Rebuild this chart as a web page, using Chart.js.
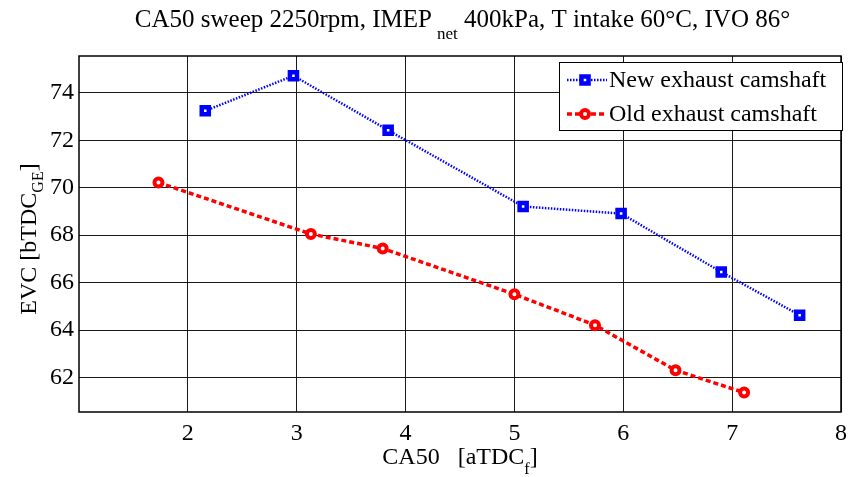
<!DOCTYPE html>
<html>
<head>
<meta charset="utf-8">
<script src="https://cdn.jsdelivr.net/npm/chart.js@4/dist/chart.umd.min.js"></script>
<style>
html,body{margin:0;padding:0;background:#fff;}
#wrap{width:854px;height:477px;position:relative;}
</style>
</head>
<body>
<div id="wrap"><canvas id="c" width="854" height="477"></canvas></div>
<script>
// ---- data ----
const newLabel = "New exhaust camshaft";
const oldLabel = "Old exhaust camshaft";
const newX = [2.16, 2.97, 3.84, 5.08, 5.98, 6.90, 7.62];
const newY = [73.24, 74.72, 72.42, 69.21, 68.91, 66.45, 64.63];
const oldX = [1.73, 3.13, 3.79, 5.00, 5.74, 6.48, 7.11];
const oldY = [70.22, 68.05, 67.44, 65.51, 64.21, 62.31, 61.37];
const xTicks = [2, 3, 4, 5, 6, 7, 8];
const yTicks = [62, 64, 66, 68, 70, 72, 74];
const titleMain1 = "CA50 sweep 2250rpm, IMEP";
const titleSub = "net";
const titleMain2 = " 400kPa, T intake 60\u00B0C, IVO 86\u00B0";
const xLabelMain = "CA50   [aTDC";
const xLabelSub = "f";
const yLabelMain = "EVC [bTDC";
const yLabelSub = "GE";

const FONT = "'Liberation Serif', 'Times New Roman', serif";

function pts(xs, ys) { return xs.map((x, i) => ({ x: x, y: ys[i] })); }

function drawMarker(ctx, ds, x, y) {
  ctx.save();
  ctx.setLineDash([]);
  ctx.strokeStyle = ds.pointBorderColor;
  ctx.fillStyle = '#fff';
  ctx.lineWidth = ds.pointBorderWidth;
  ctx.beginPath();
  if (ds.pointStyle === 'rect') {
    const s = Math.SQRT1_2 * ds.pointRadius;
    ctx.rect(x - s, y - s, 2 * s, 2 * s);
  } else {
    ctx.arc(x, y, ds.pointRadius, 0, Math.PI * 2);
  }
  ctx.fill();
  ctx.stroke();
  ctx.restore();
}

const decor = {
  id: 'decor',
  beforeDatasetsDraw(chart) {
    const { ctx, chartArea: a } = chart;
    ctx.save();
    ctx.strokeStyle = '#000';
    ctx.lineWidth = 1.5;
    ctx.strokeRect(a.left, a.top, a.right - a.left, a.bottom - a.top);
    ctx.restore();
  },
  afterDraw(chart) {
    const { ctx, chartArea: a } = chart;
    ctx.save();
    ctx.fillStyle = '#000';
    ctx.textBaseline = 'alphabetic';
    // Title
    const bigT = "25px " + FONT, smallT = "17px " + FONT;
    ctx.font = bigT;
    const w1 = ctx.measureText(titleMain1).width;
    const w3 = ctx.measureText(titleMain2).width;
    ctx.font = smallT;
    const w2 = ctx.measureText(titleSub).width;
    const gap = 5;
    const total = w1 + gap + w2 + w3;
    let tx = 462.5 - total / 2;
    ctx.font = bigT; ctx.textAlign = 'left';
    ctx.fillText(titleMain1, tx, 27);
    ctx.font = smallT;
    ctx.fillText(titleSub, tx + w1 + gap, 39);
    ctx.font = bigT;
    ctx.fillText(titleMain2, tx + w1 + gap + w2, 27);

    // X label
    const bigL = "24px " + FONT, smallL = "16px " + FONT;
    ctx.font = bigL;
    const xl1 = ctx.measureText(xLabelMain).width;
    const xl3 = ctx.measureText("]").width;
    ctx.font = smallL;
    const xl2 = ctx.measureText(xLabelSub).width;
    let lx = (a.left + a.right) / 2 - (xl1 + xl2 + xl3) / 2;
    ctx.font = bigL;
    ctx.fillText(xLabelMain, lx, 464);
    ctx.font = smallL;
    ctx.fillText(xLabelSub, lx + xl1, 474);
    ctx.font = bigL;
    ctx.fillText("]", lx + xl1 + xl2, 464);

    // Y label (rotated)
    ctx.font = bigL;
    const yl1 = ctx.measureText(yLabelMain).width;
    const yl3 = ctx.measureText("]").width;
    ctx.font = smallL;
    const yl2 = ctx.measureText(yLabelSub).width;
    ctx.translate(36, (a.top + a.bottom) / 2 + 5);
    ctx.rotate(-Math.PI / 2);
    let ly = -(yl1 + yl2 + yl3) / 2;
    ctx.font = bigL;
    ctx.fillText(yLabelMain, ly, 0);
    ctx.font = smallL;
    ctx.fillText(yLabelSub, ly + yl1, 7);
    ctx.font = bigL;
    ctx.fillText("]", ly + yl1 + yl2, 0);
    ctx.restore();

    // Legend
    ctx.save();
    const L = 559, T = 62, R = 842, B = 130;
    ctx.fillStyle = '#fff';
    ctx.fillRect(L, T, R - L, B - T);
    ctx.strokeStyle = '#000';
    ctx.lineWidth = 1;
    ctx.strokeRect(L + 0.5, T + 0.5, R - L, B - T);
    const rows = chart.data.datasets.map((ds, i) => ({ ds: ds, y: i === 0 ? 80 : 114 }));
    rows.forEach(r => {
      ctx.strokeStyle = r.ds.borderColor;
      ctx.lineWidth = r.ds.borderWidth;
      ctx.setLineDash(r.ds.borderDash);
      ctx.beginPath();
      ctx.moveTo(567, r.y);
      ctx.lineTo(607, r.y);
      ctx.stroke();
      drawMarker(ctx, r.ds, 585, r.y);
      ctx.setLineDash([]);
      ctx.fillStyle = '#000';
      ctx.font = "24px " + FONT;
      ctx.textAlign = 'left';
      ctx.textBaseline = 'middle';
      ctx.fillText(r.ds.label, 609, r.y + 1);
    });
    ctx.restore();
  }
};

new Chart(document.getElementById('c'), {
  type: 'line',
  data: {
    datasets: [
      {
        label: newLabel,
        data: pts(newX, newY),
        borderColor: '#0000ff',
        backgroundColor: '#ffffff',
        borderWidth: 2.5,
        borderDash: [1.5, 1.5],
        pointStyle: 'rect',
        pointRadius: 5,
        pointBorderWidth: 4.5,
        pointBackgroundColor: '#ffffff',
        pointBorderColor: '#0000ff',
        tension: 0,
        fill: false
      },
      {
        label: oldLabel,
        data: pts(oldX, oldY),
        borderColor: '#ff0000',
        backgroundColor: '#ffffff',
        borderWidth: 3.5,
        borderDash: [5, 3],
        pointStyle: 'circle',
        pointRadius: 4,
        pointBorderWidth: 4,
        pointBackgroundColor: '#ffffff',
        pointBorderColor: '#ff0000',
        tension: 0,
        fill: false
      }
    ]
  },
  options: {
    responsive: false,
    animation: false,
    layout: { padding: { top: 56, right: 8, left: 0, bottom: 0 } },
    plugins: {
      legend: { display: false },
      title: { display: false },
      tooltip: { enabled: false }
    },
    scales: {
      x: {
        type: 'linear',
        min: 1, max: 8,
        afterBuildTicks: s => { s.ticks = xTicks.map(v => ({ value: v })); },
        afterFit: s => { s.height = 65; },
        grid: { color: '#1a1a1a', lineWidth: 1, drawTicks: false },
        border: { display: false },
        ticks: { color: '#000', font: { family: FONT, size: 24 }, padding: 7, maxRotation: 0, autoSkip: false }
      },
      y: {
        type: 'linear',
        min: 60.55, max: 75.55,
        afterBuildTicks: s => { s.ticks = yTicks.map(v => ({ value: v })); },
        afterFit: s => { s.width = 79; },
        grid: { color: '#1a1a1a', lineWidth: 1, drawTicks: false },
        border: { display: false },
        ticks: { color: '#000', font: { family: FONT, size: 24 }, padding: 5, autoSkip: false }
      }
    }
  },
  plugins: [decor]
});
</script>
</body>
</html>
